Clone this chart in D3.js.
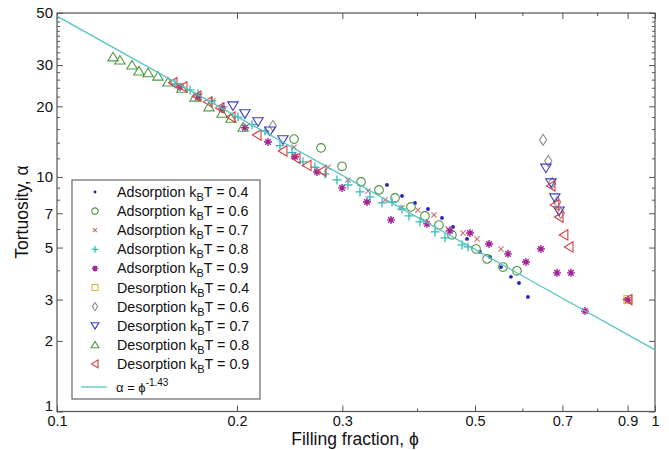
<!DOCTYPE html>
<html>
<head>
<meta charset="utf-8">
<script src="https://cdn.jsdelivr.net/npm/d3@7"></script>
<style>
  body { margin: 0; background: #fff; }
  text { font-family: "Liberation Sans", Arial, sans-serif; fill: #111; }
</style>
</head>
<body>
<div id="chart"></div>
<script>
// values
var ads04X = [0.1728, 0.3563, 0.3775, 0.3969, 0.4172, 0.4403, 0.4594, 0.4849, 0.5099, 0.5298, 0.5527, 0.5743, 0.5923, 0.6131];
var ads04Y = [22.1, 9.25, 8.30, 7.75, 7.30, 6.69, 6.12, 5.44, 4.79, 4.56, 4.13, 3.75, 3.53, 3.08];

var ads06X = [0.2491, 0.2764, 0.2997, 0.3224, 0.3455, 0.3675, 0.3908, 0.4124, 0.4352, 0.4575, 0.5021, 0.5238, 0.5569, 0.5877];
var ads06Y = [14.5, 13.3, 11.1, 9.52, 8.80, 8.14, 7.45, 6.82, 6.24, 5.66, 4.93, 4.47, 4.13, 3.98];

var ads07X = [0.1606, 0.1823, 0.2491, 0.2839, 0.3066, 0.3312, 0.3536, 0.3775, 0.4014, 0.4270, 0.4506, 0.4775, 0.5040, 0.5527];
var ads07Y = [24.2, 21.1, 13.4, 11.0, 9.71, 8.71, 7.98, 7.38, 7.23, 6.89, 6.00, 5.77, 5.44, 4.93];

var ads08X = [0.1575, 0.1669, 0.1721, 0.1816, 0.1895, 0.2007, 0.2119, 0.2227, 0.2360, 0.2472, 0.2578, 0.2700, 0.2807,
              0.2939, 0.3066, 0.3211, 0.3337, 0.3495, 0.3633, 0.3775, 0.3878, 0.4046, 0.4287, 0.4455, 0.4757, 0.4868];
var ads08Y = [24.9, 23.5, 22.6, 21.1, 19.9, 18.0, 16.7, 15.7, 13.6, 12.7, 11.6, 11.0, 10.3,
              9.71, 9.25, 8.63, 8.22, 7.75, 7.82, 7.30, 6.82, 6.43, 5.83, 5.50, 5.13, 5.03];

var ads09X = [0.1606, 0.1721, 0.1888, 0.2062, 0.2253, 0.2500, 0.2721, 0.2997, 0.3299, 0.3619, 0.4156, 0.4541, 0.4905,
              0.5278, 0.5678, 0.6085, 0.6446, 0.6857, 0.7236, 0.7637, 0.901];
var ads09Y = [24.2, 21.9, 19.5, 16.2, 14.1, 12.2, 10.5, 8.98, 7.82, 6.56, 6.31, 5.89, 5.77,
              5.18, 4.70, 4.34, 4.93, 3.90, 3.90, 2.68, 2.99];

var des04X = [0.901];
var des04Y = [3.0];

var des06X = [0.2297, 0.650, 0.663, 0.673, 0.686, 0.696];
var des06Y = [16.5, 14.4, 11.7, 9.43, 7.82, 7.02];

var des07X = [0.1969, 0.2062, 0.2168, 0.2271, 0.2387, 0.657, 0.670, 0.680, 0.691];
var des07Y = [20.1, 18.6, 17.2, 15.7, 14.4, 10.9, 9.43, 8.14, 7.16];

var des08X = [0.1241, 0.1274, 0.1335, 0.1371, 0.1420, 0.1475, 0.1533, 0.1618, 0.1701, 0.1795, 0.1888, 0.1954, 0.2047];
var des08Y = [32.5, 31.5, 30.0, 28.3, 27.8, 26.9, 25.4, 23.9, 21.9, 19.9, 18.7, 17.8, 16.3];

var des09X = [0.1563, 0.1624, 0.1714, 0.1788, 0.1873, 0.1954, 0.2160, 0.2387, 0.2510, 0.2619, 0.2775,
              0.670, 0.680, 0.691, 0.704, 0.718, 0.901];
var des09Y = [25.2, 24.2, 22.1, 20.9, 19.7, 18.0, 15.1, 12.9, 12.0, 11.2, 10.6,
              9.16, 7.60, 6.75, 5.66, 5.03, 3.0];

// fitted power law, end points of the line
var fitX = [0.1, 1];
var fitY = [48.5, 1.83];

var xTicks = [0.1, 0.2, 0.3, 0.5, 0.7, 0.9, 1];
var xTickLabels = ["0.1", "0.2", "0.3", "0.5", "0.7", "0.9", "1"];
var xMinor = [0.4, 0.6, 0.8];
var yTicks = [1, 2, 3, 5, 7, 10, 20, 30, 50];
var yTickLabels = ["1", "2", "3", "5", "7", "10", "20", "30", "50"];
var yMinor = [4, 6, 8, 9, 12, 14, 16, 18, 22, 24, 26, 28, 32, 34, 36, 38, 40, 42, 44, 46, 48];

var legendNames = ["Adsorption", "Adsorption", "Adsorption", "Adsorption", "Adsorption",
                   "Desorption", "Desorption", "Desorption", "Desorption", "Desorption"];
var legendTemps = ["0.4", "0.6", "0.7", "0.8", "0.9", "0.4", "0.6", "0.7", "0.8", "0.9"];

var series = [
  {x: ads04X, y: ads04Y, mark: "dot",    color: "#1f1fc8"},
  {x: ads06X, y: ads06Y, mark: "circle", color: "#4e9340"},
  {x: ads07X, y: ads07Y, mark: "times",  color: "#c77070"},
  {x: ads08X, y: ads08Y, mark: "plus",   color: "#36b9b9"},
  {x: ads09X, y: ads09Y, mark: "star",   color: "#a32597"},
  {x: des04X, y: des04Y, mark: "square", color: "#d2c03c"},
  {x: des06X, y: des06Y, mark: "diamond",color: "#8c8c8c"},
  {x: des07X, y: des07Y, mark: "tridown",color: "#3c3cc0"},
  {x: des08X, y: des08Y, mark: "triup",  color: "#4f9a47"},
  {x: des09X, y: des09Y, mark: "trileft",color: "#d63d3d"}
];

var width = 669, height = 450;
var pLeft = 57, pRight = 655, pTop = 13, pBottom = 411.5;

var svg = d3.select("#chart").append("svg")
  .attr("width", width)
  .attr("height", height);

var x = d3.scaleLog().domain([0.1, 1]).range([pLeft, pRight]);
var y = d3.scaleLog().domain([1, 50]).range([pBottom, pTop]);

var frameColor = "#555";

// axes, ticks pointing inwards on all four sides
function styleAxis(size) {
  return function(g) {
    g.select(".domain").remove();
    g.selectAll(".tick line").attr("stroke", frameColor);
    g.selectAll(".tick text").style("font-size", size + "px").attr("fill", "#111");
  };
}

svg.append("g").attr("transform", "translate(0," + pBottom + ")")
  .call(d3.axisBottom(x).tickValues(xTicks).tickSize(-6).tickPadding(4)
        .tickFormat(function(d, i) { return xTickLabels[i]; }))
  .call(styleAxis(14.5));
svg.append("g").attr("transform", "translate(0," + pBottom + ")")
  .call(d3.axisBottom(x).tickValues(xMinor).tickSize(-3).tickFormat(""))
  .call(styleAxis(14.5));
svg.append("g").attr("transform", "translate(0," + pTop + ")")
  .call(d3.axisTop(x).tickValues(xTicks).tickSize(-6).tickFormat(""))
  .call(styleAxis(14.5));
svg.append("g").attr("transform", "translate(0," + pTop + ")")
  .call(d3.axisTop(x).tickValues(xMinor).tickSize(-3).tickFormat(""))
  .call(styleAxis(14.5));

var yAxisG = svg.append("g").attr("transform", "translate(" + pLeft + ",0)")
  .call(d3.axisLeft(y).tickValues(yTicks).tickSize(-6).tickPadding(4)
        .tickFormat(function(d, i) { return yTickLabels[i]; }))
  .call(styleAxis(15));
// the "1" sits just above the "0.1" of the x axis
yAxisG.selectAll(".tick text").filter(function(d) { return d == 1; }).attr("dy", "-0.1em");

svg.append("g").attr("transform", "translate(" + pLeft + ",0)")
  .call(d3.axisLeft(y).tickValues(yMinor).tickSize(-3).tickFormat(""))
  .call(styleAxis(15));
svg.append("g").attr("transform", "translate(" + pRight + ",0)")
  .call(d3.axisRight(y).tickValues(yTicks).tickSize(-6).tickFormat(""))
  .call(styleAxis(15));
svg.append("g").attr("transform", "translate(" + pRight + ",0)")
  .call(d3.axisRight(y).tickValues(yMinor).tickSize(-3).tickFormat(""))
  .call(styleAxis(15));

svg.append("rect")
  .attr("x", pLeft).attr("y", pTop)
  .attr("width", pRight - pLeft).attr("height", pBottom - pTop)
  .attr("fill", "none").attr("stroke", frameColor).attr("stroke-width", 1.2);

// marker drawing
function drawMark(g, mark, color, k) {
  k = k || 1;
  if (mark == "dot") {
    g.append("circle").attr("r", 1.9 * k).attr("fill", color);
  } else if (mark == "circle") {
    g.append("circle").attr("r", 4.3 * k).attr("fill", "none").attr("stroke", color).attr("stroke-width", 1.1);
  } else if (mark == "times") {
    var s = 2.6 * k;
    g.append("path").attr("d", "M" + (-s) + "," + (-s) + "L" + s + "," + s + "M" + (-s) + "," + s + "L" + s + "," + (-s))
      .attr("stroke", color).attr("stroke-width", 1.1).attr("fill", "none");
  } else if (mark == "plus") {
    var p = 4.5 * k;
    g.append("path").attr("d", "M" + (-p) + ",0H" + p + "M0," + (-p) + "V" + p)
      .attr("stroke", color).attr("stroke-width", 1.3).attr("fill", "none");
  } else if (mark == "star") {
    var a = 4 * k, b = 2.8 * k;
    g.append("path").attr("d", "M" + (-a) + ",0H" + a + "M0," + (-a) + "V" + a +
        "M" + (-b) + "," + (-b) + "L" + b + "," + b + "M" + (-b) + "," + b + "L" + b + "," + (-b))
      .attr("stroke", color).attr("stroke-width", 1.4).attr("fill", "none");
    g.append("circle").attr("r", 2 * k).attr("fill", color);
  } else if (mark == "square") {
    var q = 4 * k;
    g.append("rect").attr("x", -q).attr("y", -q).attr("width", 2 * q).attr("height", 2 * q)
      .attr("fill", "none").attr("stroke", color).attr("stroke-width", 1.1);
  } else {
    var d;
    if (mark == "diamond") d = [[0, -5.5], [3.6, 0], [0, 5.5], [-3.6, 0]];
    if (mark == "tridown") d = [[-5.2, -4], [5.2, -4], [0, 4.6]];
    if (mark == "triup") d = [[0, -4.6], [5.2, 4], [-5.2, 4]];
    if (mark == "trileft") d = [[-4.6, 0], [4, -5.2], [4, 5.2]];
    var line = d3.line();
    g.append("path").attr("d", line(d.map(function(pt) { return [pt[0] * k, pt[1] * k]; })) + "Z")
      .attr("fill", "none").attr("stroke", color).attr("stroke-width", 1.1);
  }
}

var marks = svg.append("g");
series.forEach(function(s) {
  s.x.forEach(function(v, i) {
    var g = marks.append("g").attr("transform", "translate(" + x(v) + "," + y(s.y[i]) + ")");
    drawMark(g, s.mark, s.color, 1);
  });
});

// fit line
svg.append("path")
  .datum(fitX.map(function(v, i) { return [v, fitY[i]]; }))
  .attr("d", d3.line().x(function(d) { return x(d[0]); }).y(function(d) { return y(d[1]); }))
  .attr("stroke", "#55c3c3").attr("stroke-width", 1.3).attr("fill", "none");

// legend
var lg = svg.append("g");
lg.append("rect")
  .attr("x", 72).attr("y", 180).attr("width", 188).attr("height", 219)
  .attr("fill", "#fff").attr("stroke", "#666").attr("stroke-width", 1.2);

legendNames.forEach(function(name, i) {
  var cy = 192 + i * 19.1;
  var g = lg.append("g").attr("transform", "translate(95," + cy + ")");
  drawMark(g, series[i].mark, series[i].color, 0.75);
  var t = lg.append("text").attr("x", 117).attr("y", cy + 5).style("font-size", "14.3px");
  t.append("tspan").text(name + " k");
  t.append("tspan").attr("dy", 4).style("font-size", "11px").text("B");
  t.append("tspan").attr("dy", -4).text("T = " + legendTemps[i]);
});

var fy = 387;
lg.append("line").attr("x1", 81).attr("x2", 107).attr("y1", fy).attr("y2", fy)
  .attr("stroke", "#55c3c3").attr("stroke-width", 1.3);
var ft = lg.append("text").attr("x", 116).attr("y", fy + 5).style("font-size", "13px");
ft.append("tspan").text("\u03b1 = \u03d5");
ft.append("tspan").attr("dy", -6).style("font-size", "10px").text("-1.43");

// axis titles
svg.append("text")
  .attr("x", 355).attr("y", 445)
  .attr("text-anchor", "middle")
  .style("font-size", "17.5px")
  .text("Filling fraction, \u03d5");

svg.append("text")
  .attr("transform", "translate(28,212) rotate(-90)")
  .attr("text-anchor", "middle")
  .style("font-size", "17.5px")
  .text("Tortuosity, \u03b1");
</script>
</body>
</html>
